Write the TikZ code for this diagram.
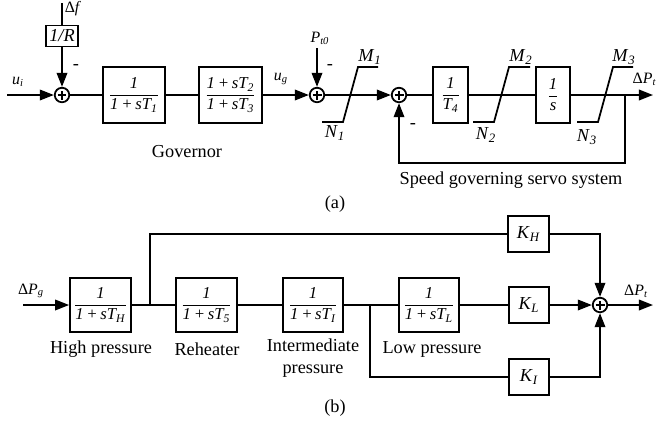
\documentclass[tikz,border=0pt]{standalone}
\usepackage{amsmath}
\usepackage{fontspec}
\setmainfont{Liberation Serif}
\usetikzlibrary{arrows.meta}
\newcommand{\blockfrac}[2]{{\fontsize{9.5}{11}\selectfont$\displaystyle\frac{#1}{#2}$}}
\newcommand{\pls}{\,\textit{+}\,}

\begin{document}
\begin{tikzpicture}[x=0.02cm,y=-0.02cm,line width=1pt,
    >={Triangle[length=8pt,width=6pt]},
    font=\fontsize{10.4}{12.5}\selectfont,
    block/.style={draw,line width=1pt,inner sep=0pt,minimum height=1.12cm},
    gain/.style={draw,line width=1pt,inner sep=0pt,minimum width=0.81cm,minimum height=0.71cm},
    sumnode/.style={draw,circle,line width=1pt,minimum size=0.29cm,inner sep=0pt,
      path picture={
        \draw[line width=1.3pt] ([xshift=-0.09cm]path picture bounding box.center) -- ([xshift=0.09cm]path picture bounding box.center);
        \draw[line width=1.3pt] ([yshift=-0.09cm]path picture bounding box.center) -- ([yshift=0.09cm]path picture bounding box.center);}},
    small/.style={font=\fontsize{9}{11}\selectfont}]
\useasboundingbox (0,0) rectangle (659,423);

% (a) governor and servo system
\coordinate (dftop) at (62,3);
\node[small] (dflab) at (73,9) {Δ\textit{f}};
\node[block,minimum width=0.64cm,minimum height=0.42cm] (r) at (62,36) {\textit{1/R}};
\node[sumnode] (s1) at (62,95) {};
\node (m1) at (76,67) {-};
\coordinate (ui) at (7,95);
\node[small] (uilab) at (18,82) {\textit{u}$_{\textit{i}}$};
\node[block,minimum width=1.24cm] (g1) at (134,95) {\blockfrac{\textit{1}}{\textit{1}\pls\textit{sT}_{\textit{1}}}};
\node[block,minimum width=1.26cm] (g2) at (230.5,95) {\blockfrac{\textit{1}\pls\textit{sT}_{\textit{2}}}{\textit{1}\pls\textit{sT}_{\textit{3}}}};
\node[small] (uglab) at (281,79) {\textit{u}$_{\textit{g}}$};
\node[sumnode] (s2) at (317,95) {};
\coordinate (pt0) at (317,48);
\node[small] (pt0lab) at (320,38) {\textit{P}$_{\textit{t0}}$};
\node (m2) at (330,67) {-};
\node[sumnode] (s3) at (399,95) {};
\node (m3) at (413,126) {-};
\node[block,minimum width=0.7cm] (t4) at (450.5,95) {\blockfrac{\textit{1}}{\textit{T}_{\textit{4}}}};
\node[block,minimum width=0.68cm] (integ) at (553,95) {\blockfrac{\textit{1}}{\textit{s}}};
\coordinate (fb) at (625,95);
\coordinate (fbd) at (625,163);
\coordinate (out) at (653,95);
\node[small,anchor=east,inner sep=1pt] (ptlab) at (659,79) {Δ\textit{P}$_{\textit{t}}$};

% limiters
\draw (322,122) -- (343,122) -- (358,67) -- (378,67);
\draw (473,122) -- (494,122) -- (509,67) -- (530,67);
\draw (577,122) -- (598,122) -- (613,67) -- (633,67);
\node (mm1) at (370,57) {\textit{M}$_{\textit{1}}$};
\node (nn1) at (335,133) {\textit{N}$_{\textit{1}}$};
\node (mm2) at (521,57) {\textit{M}$_{\textit{2}}$};
\node (nn2) at (486,135) {\textit{N}$_{\textit{2}}$};
\node (mm3) at (624,57) {\textit{M}$_{\textit{3}}$};
\node (nn3) at (587,137) {\textit{N}$_{\textit{3}}$};

\draw[->] (ui) -- (s1);
\draw (dftop) -- (r);
\draw[->] (r) -- (s1);
\draw (s1) -- (g1);
\draw (g1) -- (g2);
\draw[->] (g2) -- (s2);
\draw[->] (pt0) -- (s2);
\draw[->] (s2) -- (s3);
\draw (s3) -- (t4);
\draw (t4) -- (integ);
\draw[->] (integ) -- (out);
\draw[->] (fb) -- (fbd) -| (s3);

\node (gov) at (187,152) {Governor};
\node (servo) at (511,180) {Speed governing servo system};
\node (capa) at (335,204) {(a)};

% (b) turbine
\coordinate (pgin) at (23,305);
\node[small] (pglab) at (31,291) {Δ\textit{P}$_{\textit{g}}$};
\node[block,minimum width=1.22cm,minimum height=1.08cm] (th) at (100.5,305) {\blockfrac{\textit{1}}{\textit{1}\pls\textit{sT}_{\textit{H}}}};
\node[block,minimum width=1.22cm,minimum height=1.08cm] (t5) at (206.5,305) {\blockfrac{\textit{1}}{\textit{1}\pls\textit{sT}_{\textit{5}}}};
\node[block,minimum width=1.2cm,minimum height=1.08cm] (ti) at (313,305) {\blockfrac{\textit{1}}{\textit{1}\pls\textit{sT}_{\textit{I}}}};
\node[block,minimum width=1.2cm,minimum height=1.08cm] (tl) at (429,305) {\blockfrac{\textit{1}}{\textit{1}\pls\textit{sT}_{\textit{L}}}};
\node[gain] (kh) at (528.5,234) {\textit{K}$_{\textit{H}}$};
\node[gain] (kl) at (529,305) {\textit{K}$_{\textit{L}}$};
\node[gain] (ki) at (529,377) {\textit{K}$_{\textit{I}}$};
\node[sumnode] (s4) at (600,305) {};
\coordinate (b1) at (150,305);
\coordinate (b2) at (370,305);
\coordinate (pout) at (653,305);
\node[small] (ptlab2) at (636,291) {Δ\textit{P}$_{\textit{t}}$};

\draw[->] (pgin) -- (th);
\draw (th) -- (t5);
\draw (t5) -- (ti);
\draw (ti) -- (tl);
\draw (tl) -- (kl);
\draw[->] (kl) -- (s4);
\draw[->] (s4) -- (pout);
\draw (b1) |- (kh);
\draw[->] (kh) -| (s4);
\draw (b2) |- (ki);
\draw[->] (ki) -| (s4);

\node (hp) at (101,349) {High pressure};
\node (rh) at (207,349) {Reheater};
\node[align=center] (ip) at (313,358) {Intermediate\\pressure};
\node (lp) at (432,349) {Low pressure};
\node (capb) at (335,408) {(b)};
\end{tikzpicture}
\end{document}
